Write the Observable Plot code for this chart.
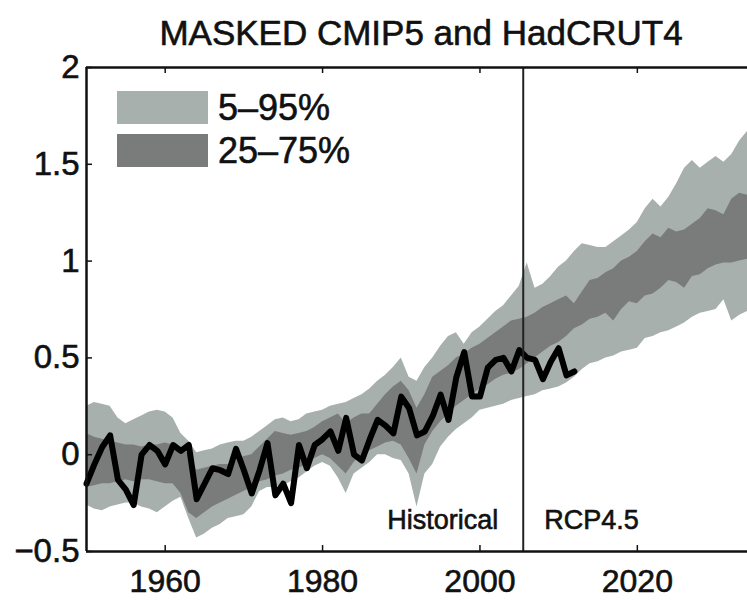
<!DOCTYPE html>
<html><head><meta charset="utf-8">
<script src="https://cdn.jsdelivr.net/npm/d3@7"></script>
<script src="https://cdn.jsdelivr.net/npm/@observablehq/plot@0.6"></script>
<style>
body{margin:0;background:#fff;overflow:hidden;font-family:"Liberation Sans",Arial,sans-serif;}
#wrap{position:relative;width:747px;height:601px;overflow:hidden;}
#title{position:absolute;left:0;top:15px;width:747px;padding-left:95px;box-sizing:border-box;text-align:center;font-size:35px;line-height:35px;color:#111;white-space:nowrap;-webkit-text-stroke:0.6px #111;z-index:2;}
#chart{position:absolute;left:0;top:20px;}
#chart svg text{stroke:#111;stroke-width:0.6px;}
.sw{position:absolute;}
.lt{position:absolute;font-size:36px;line-height:36px;color:#111;white-space:nowrap;-webkit-text-stroke:0.6px #111;}
</style></head><body>
<div id="wrap">
<div id="title">MASKED CMIP5 and HadCRUT4</div>
<div id="chart"></div>
<div id="legend"></div>
</div>
<script>
// ---- data ----
const bandYears = d3.range(1950, 2036);
const p95 = [0.25,0.27,0.26,0.25,0.19,0.16,0.18,0.20,0.22,0.23,
 0.22,0.19,0.11,0.07,0.01,0.02,0.03,0.05,0.06,0.07,
 0.07,0.09,0.12,0.15,0.18,0.19,0.17,0.18,0.21,0.22,
 0.23,0.25,0.26,0.27,0.29,0.31,0.34,0.38,0.41,0.45,
 0.50,0.40,0.38,0.45,0.50,0.56,0.61,0.63,0.57,0.63,
 0.66,0.70,0.74,0.77,0.82,0.87,0.99,0.86,0.88,0.92,
 0.97,1.00,1.05,1.09,1.08,1.07,1.07,1.10,1.13,1.16,
 1.20,1.27,1.32,1.28,1.33,1.40,1.48,1.52,1.48,1.51,
 1.54,1.51,1.55,1.62,1.67,1.70];
const p75 = [0.11,0.09,0.08,0.07,0.06,0.05,0.05,0.04,0.05,0.05,
 0.06,0.05,0.04,0.00,-0.08,-0.07,-0.06,-0.05,-0.05,-0.03,
 -0.01,0.00,0.04,0.08,0.12,0.11,0.10,0.11,0.12,0.14,
 0.17,0.19,0.21,0.16,0.19,0.21,0.21,0.26,0.31,0.35,
 0.38,0.33,0.24,0.31,0.40,0.43,0.46,0.50,0.52,0.55,
 0.57,0.60,0.63,0.66,0.69,0.70,0.71,0.73,0.76,0.78,
 0.80,0.82,0.78,0.84,0.90,0.91,0.94,0.96,1.00,1.02,
 1.05,1.10,1.14,1.12,1.17,1.15,1.16,1.19,1.22,1.27,
 1.26,1.24,1.32,1.35,1.34,1.36];
const p25 = [-0.17,-0.16,-0.15,-0.15,-0.14,-0.13,-0.14,-0.13,-0.13,-0.14,
 -0.15,-0.15,-0.20,-0.30,-0.33,-0.30,-0.27,-0.25,-0.23,-0.21,
 -0.19,-0.17,-0.14,-0.13,-0.11,-0.10,-0.08,-0.07,-0.05,-0.02,
 0.00,-0.02,-0.06,-0.10,-0.04,0.00,0.02,0.04,0.06,0.07,
 0.05,-0.02,-0.10,0.05,0.12,0.17,0.21,0.25,0.28,0.31,
 0.34,0.36,0.39,0.41,0.42,0.44,0.47,0.50,0.53,0.56,
 0.58,0.61,0.65,0.67,0.70,0.71,0.73,0.69,0.75,0.79,
 0.78,0.82,0.83,0.86,0.90,0.89,0.86,0.92,0.93,0.96,
 0.98,0.99,0.99,1.00,1.01,1.02];
const p5 = [-0.26,-0.28,-0.29,-0.27,-0.26,-0.25,-0.25,-0.27,-0.28,-0.30,
 -0.27,-0.24,-0.22,-0.33,-0.43,-0.41,-0.38,-0.36,-0.33,-0.32,
 -0.31,-0.27,-0.19,-0.17,-0.17,-0.16,-0.14,-0.12,-0.09,-0.06,
 -0.04,-0.06,-0.12,-0.20,-0.10,-0.07,-0.04,0.00,0.00,-0.02,
 -0.03,-0.10,-0.27,-0.10,-0.05,0.04,0.09,0.13,0.16,0.19,
 0.23,0.24,0.25,0.26,0.28,0.29,0.30,0.31,0.33,0.34,
 0.35,0.37,0.40,0.44,0.47,0.48,0.50,0.51,0.53,0.54,
 0.55,0.60,0.61,0.63,0.64,0.66,0.68,0.71,0.73,0.74,
 0.75,0.80,0.69,0.72,0.74,0.74];
const obsYears = d3.range(1950, 2013);
const obs = [-0.15,-0.05,0.04,0.10,-0.13,-0.18,-0.26,0.00,0.05,0.02,
 -0.05,0.05,0.02,0.05,-0.23,-0.15,-0.07,-0.08,-0.10,0.03,
 -0.08,-0.20,-0.08,0.06,-0.21,-0.15,-0.25,0.05,-0.07,0.05,
 0.08,0.12,0.02,0.19,0.00,-0.03,0.08,0.18,0.15,0.11,
 0.30,0.24,0.10,0.12,0.20,0.31,0.18,0.40,0.53,0.30,
 0.30,0.45,0.49,0.50,0.43,0.54,0.50,0.49,0.39,0.48,
 0.55,0.41,0.43];
const xDomain = [1950, 2034];
const yDomain = [-0.5, 2];
const xTicks = [1960, 1980, 2000, 2020];
const yTicks = [-0.5, 0, 0.5, 1, 1.5, 2];
const yTickLabels = ["\u22120.5", "0", "0.5", "1", "1.5", "2"];
const splitYear = 2005.5;
const periodLabels = ["Historical", "RCP4.5"];
const legendLabels = ["5\u201395%", "25\u201375%"];
const lightC = "#a7b0ad", darkC = "#7a7b7b";

const bands = bandYears.map((year, i) => ({year, p5: p5[i], p25: p25[i], p75: p75[i], p95: p95[i]}));
const obsData = obsYears.map((year, i) => ({year, v: obs[i]}));

const W = 747, H = 581, mT = 47, mB = 50, mL = 86, mR = 0;
const fh = H - mT - mB, fw = W - mL - mR;
const ink = "#111";

const chart = Plot.plot({
  width: W, height: H, marginTop: mT, marginBottom: mB, marginLeft: mL, marginRight: mR,
  x: {domain: xDomain},
  y: {domain: yDomain},
  style: {fontFamily: "'Liberation Sans', Arial, sans-serif", background: "transparent", color: ink},
  marks: [
    Plot.areaY(bands, {x: "year", y1: "p5", y2: "p95", fill: lightC, clip: true}),
    Plot.areaY(bands, {x: "year", y1: "p25", y2: "p75", fill: darkC, clip: true}),
    Plot.line(obsData, {x: "year", y: "v", stroke: "#000", strokeWidth: 6, strokeLinejoin: "round", strokeLinecap: "round"}),
    Plot.ruleX([splitYear], {stroke: "#222", strokeWidth: 2}),
    Plot.ruleY([yDomain[0], yDomain[1]], {stroke: ink, strokeWidth: 2.5}),
    Plot.ruleX([xDomain[0]], {stroke: ink, strokeWidth: 2.5}),
    Plot.ruleX(xTicks, {stroke: ink, strokeWidth: 1.5, insetTop: fh - 6}),
    Plot.ruleX(xTicks, {stroke: ink, strokeWidth: 1.5, insetBottom: fh - 6}),
    Plot.ruleY(yTicks, {stroke: ink, strokeWidth: 1.5, insetRight: fw - 6}),
    Plot.axisX({ticks: xTicks, tickSize: 0, tickPadding: 18, fontSize: 32, tickFormat: d => String(d), label: null}),
    Plot.axisY({ticks: yTicks, tickSize: 0, tickPadding: 7, fontSize: 33, tickFormat: d => yTickLabels[yTicks.indexOf(d)], label: null}),
    Plot.text([splitYear], {x: d => d, frameAnchor: "bottom", text: () => periodLabels[0], textAnchor: "end", dx: -25, dy: -23, fontSize: 27, fill: ink}),
    Plot.text([splitYear], {x: d => d, frameAnchor: "bottom", text: () => periodLabels[1], textAnchor: "start", dx: 21, dy: -23, fontSize: 27, fill: ink})
  ]
});
document.getElementById("chart").appendChild(chart);

// legend (inside plot, top-left)
const leg = document.getElementById("legend");
const legColors = [lightC, darkC];
const swTops = [91, 134];
legendLabels.forEach((lab, i) => {
  const s = document.createElement("div");
  s.className = "sw";
  s.style.cssText = `left:117px;top:${swTops[i]}px;width:91px;height:33px;background:${legColors[i]};`;
  leg.appendChild(s);
  const t = document.createElement("div");
  t.className = "lt";
  t.style.left = "218px";
  t.style.top = (swTops[i] - 1.5) + "px";
  t.textContent = lab;
  leg.appendChild(t);
});
</script>
</body></html>
